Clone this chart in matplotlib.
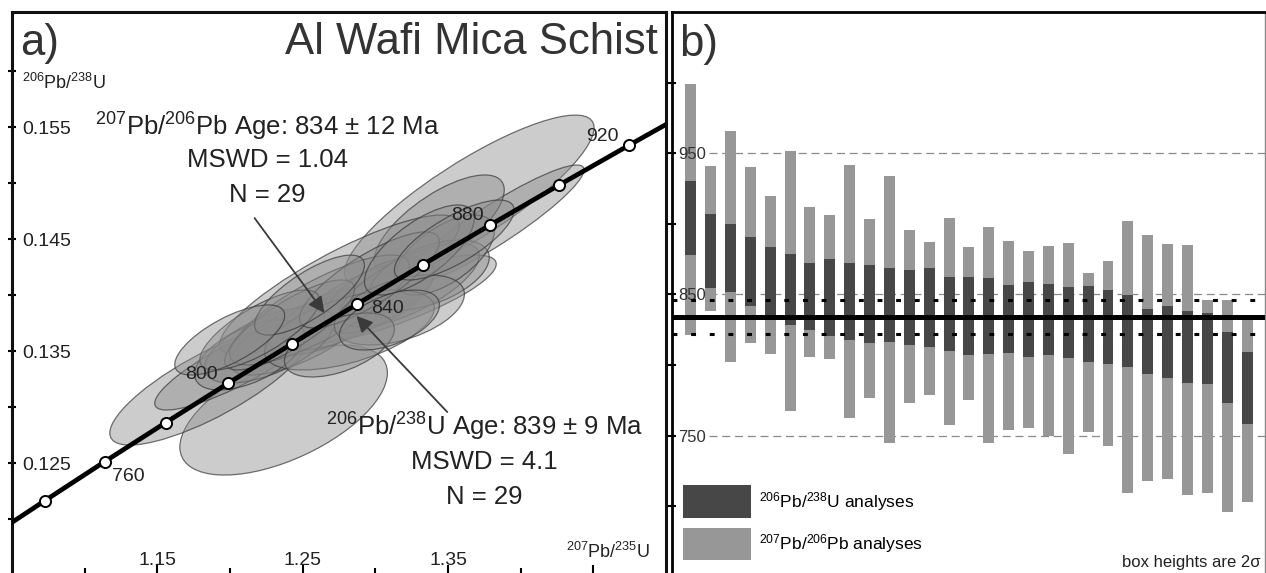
import numpy as np
import matplotlib.pyplot as plt
from matplotlib.patches import Ellipse, Patch
from matplotlib.ticker import FixedLocator, FixedFormatter, NullFormatter

plt.rcParams['font.family'] = ['Liberation Sans', 'DejaVu Sans']
plt.rcParams['mathtext.fontset'] = 'custom'
plt.rcParams['mathtext.rm'] = 'Liberation Sans'
plt.rcParams['mathtext.it'] = 'Liberation Sans:italic'
plt.rcParams['mathtext.bf'] = 'Liberation Sans:bold'

# concordia points (Ma, 207Pb/235U, 206Pb/238U)
conc_age = [720, 740, 760, 780, 800, 820, 840, 860, 880, 900, 920, 940]
conc_x = [1.0321, 1.0726, 1.1138, 1.1558, 1.1987, 1.2425, 1.2871, 1.3326, 1.3790, 1.4263, 1.4746, 1.5238]
conc_y = [0.11817, 0.12164, 0.12513, 0.12862, 0.13213, 0.13565, 0.13918, 0.14272, 0.14627, 0.14983, 0.15340, 0.15699]
conc_labels = [760, 800, 840, 880, 920]

# zircon analyses: 207Pb/235U, 2s, 206Pb/238U, 2s, error correlation
r75 = [1.2369, 1.1860, 1.2032, 1.3646, 1.3818, 1.3440, 1.2753, 1.3097, 1.2479, 1.2685,
       1.2891, 1.3028, 1.3234, 1.2272, 1.2135, 1.3372, 1.3475, 1.2616, 1.2822, 1.2410,
       1.3166, 1.2959, 1.2204, 1.3303, 1.2753, 1.2547, 1.3543, 1.3097, 1.1998]
r75_err = [0.0714, 0.0687, 0.0550, 0.0859, 0.0618, 0.0447, 0.0824, 0.0735, 0.0481, 0.0412,
           0.0515, 0.0378, 0.0481, 0.0447, 0.0378, 0.0412, 0.0344, 0.0618, 0.0584, 0.0447,
           0.0447, 0.0481, 0.0412, 0.0378, 0.0378, 0.0378, 0.0412, 0.0344, 0.0378]
r68 = [0.12974, 0.13197, 0.13376, 0.14850, 0.14627, 0.14627, 0.14091, 0.13957, 0.13644, 0.13778,
       0.13912, 0.14001, 0.14091, 0.13555, 0.13466, 0.14180, 0.14359, 0.13868, 0.13689, 0.13734,
       0.13868, 0.14136, 0.13689, 0.14404, 0.13555, 0.14001, 0.14493, 0.13778, 0.13600]
r68_err = [0.00581, 0.00536, 0.00402, 0.00759, 0.00536, 0.00447, 0.00625, 0.00402, 0.00357, 0.00313,
           0.00402, 0.00339, 0.00375, 0.00339, 0.00313, 0.00313, 0.00357, 0.00491, 0.00357, 0.00402,
           0.00313, 0.00429, 0.00357, 0.00402, 0.00286, 0.00357, 0.00357, 0.00268, 0.00313]
rho = [0.57, 0.80, 0.85, 0.85, 0.92, 0.70, 0.85, 0.80, 0.70, 0.65,
       0.75, 0.60, 0.70, 0.60, 0.55, 0.50, 0.60, 0.80, 0.55, 0.80,
       0.45, 0.80, 0.75, 0.70, 0.50, 0.75, 0.75, 0.50, 0.70]

# per-analysis 2 sigma age ranges (Ma)
pb76_top = [999, 941, 965.5, 940, 920, 951.5, 912, 906.5, 942, 903.5,
            934, 896, 887.5, 904, 883.6, 898, 887.6, 881, 884.3, 886.4,
            865.5, 873.5, 902, 891.8, 885.7, 885.3, 846, 846, 835.3]
pb76_bot = [821, 838, 802.5, 815.5, 808, 767.5, 806, 804.5, 762.5, 777,
            744.6, 773, 779, 757.6, 775, 745, 754, 755.3, 749.8, 737,
            752.8, 742.7, 709.3, 718.2, 719.2, 708.1, 709.5, 696, 703]
u68_top = [930, 906.7, 899.7, 890.6, 883.6, 878.9, 872.6, 875.4, 872.3, 871.2,
           869, 867.6, 868.7, 862.2, 862.7, 861.9, 857, 859.1, 857.2, 855.3,
           856, 853, 849.4, 840, 841.7, 838.3, 837.2, 823.5, 809.4]
u68_bot = [877.7, 854.5, 851.5, 842, 835, 828.2, 824.5, 820.3, 818, 815.8,
           816.4, 814, 812.7, 810, 807, 807.5, 808.7, 805.4, 806.8, 804.7,
           801.9, 800.5, 798.3, 793.4, 791, 787.5, 786.5, 772.9, 758.3]
mean_age = 834
mean_err = 12


def error_ellipse(ax, x, sx, y, sy, r, **kw):
    cov = np.array([[sx ** 2, r * sx * sy], [r * sx * sy, sy ** 2]])
    vals, vecs = np.linalg.eigh(cov)
    angle = np.degrees(np.arctan2(vecs[1, 1], vecs[0, 1]))
    ax.add_patch(Ellipse((x, y), 2 * np.sqrt(vals[1]), 2 * np.sqrt(vals[0]),
                         angle=angle, **kw))


W, H = 1266, 573
fig = plt.figure(figsize=(W / 100, H / 100), dpi=100)

# ---------------- a) concordia diagram ----------------
ax = fig.add_axes([12 / W, (H - 575) / H, 654 / W, 563 / H])
ax.set_xlim(1.05, 1.50)
ax.set_ylim(0.115, 0.1653)

for i in range(len(r75)):
    error_ellipse(ax, r75[i], r75_err[i], r68[i], r68_err[i], rho[i],
                  facecolor=(0.55, 0.55, 0.55, 0.44), edgecolor=(0.22, 0.22, 0.22, 0.7),
                  lw=0.9, zorder=2)

ax.plot(conc_x, conc_y, color='black', lw=3.4, zorder=5, solid_capstyle='butt')
ax.plot(conc_x[1:-1], conc_y[1:-1], 'o', ms=8, mfc='white', mec='black', mew=1.4, zorder=6)

label_offsets = {760: (17, -11), 800: (-19, 6.5), 840: (22, -3), 880: (-16, 7), 920: (-19, 6.5)}
for age in conc_labels:
    k = conc_age.index(age)
    ax.annotate(str(age), (conc_x[k], conc_y[k]), xytext=label_offsets[age],
                textcoords='offset points', ha='center', va='center', fontsize=14,
                color='#222222', zorder=7)

tx = ax.transAxes
ax.text(0.012, 0.981, 'a)', transform=tx, fontsize=31.5, va='top', ha='left', color='#333333')
ax.text(0.988, 0.982, 'Al Wafi Mica Schist', transform=tx, fontsize=31.5, va='top', ha='right',
        color='#333333')

ax.text(0.390, 0.796, r'$^{207}$Pb/$^{206}$Pb Age: 834 ± 12 Ma', transform=tx, fontsize=18.5,
        ha='center', va='center', color='#222222')
ax.text(0.390, 0.737, 'MSWD = 1.04', transform=tx, fontsize=18.5, ha='center', va='center',
        color='#222222')
ax.text(0.390, 0.675, 'N = 29', transform=tx, fontsize=18.5, ha='center', va='center',
        color='#222222')
ax.text(0.722, 0.263, r'$^{206}$Pb/$^{238}$U Age: 839 ± 9 Ma', transform=tx, fontsize=18.5,
        ha='center', va='center', color='#222222')
ax.text(0.722, 0.201, 'MSWD = 4.1', transform=tx, fontsize=18.5, ha='center', va='center',
        color='#222222')
ax.text(0.722, 0.139, 'N = 29', transform=tx, fontsize=18.5, ha='center', va='center',
        color='#222222')

arrow = dict(arrowstyle='-|>', color='#3a3a3a', lw=1.3, mutation_scale=24, shrinkA=0, shrinkB=0)
ax.annotate('', xy=(1.2650, 0.13841), xytext=(1.2169, 0.14689), arrowprops=arrow, zorder=8)
ax.annotate('', xy=(1.2870, 0.13814), xytext=(1.3495, 0.12956), arrowprops=arrow, zorder=8)

ax.text(0.0153, 0.874, r'$^{206}$Pb/$^{238}$U', transform=tx, fontsize=13, ha='left',
        va='center', color='#222222')
ax.text(0.9755, 0.041, r'$^{207}$Pb/$^{235}$U', transform=tx, fontsize=13, ha='right',
        va='center', color='#222222')

ax.yaxis.set_major_locator(FixedLocator([0.125, 0.135, 0.145, 0.155]))
ax.yaxis.set_minor_locator(FixedLocator([0.120, 0.130, 0.140, 0.150, 0.160]))
ax.yaxis.set_major_formatter(FixedFormatter(['0.125', '0.135', '0.145', '0.155']))
ax.tick_params(axis='y', which='both', direction='inout', length=6, width=1.5, pad=-10.2,
               labelsize=14, labelcolor='#222222', right=False)
ax.xaxis.set_major_locator(FixedLocator([1.15, 1.25, 1.35, 1.45]))
ax.xaxis.set_minor_locator(FixedLocator([1.10, 1.20, 1.30, 1.40]))
ax.xaxis.set_major_formatter(FixedFormatter(['1.15', '1.25', '1.35', '']))
ax.xaxis.set_minor_formatter(NullFormatter())
ax.tick_params(axis='x', which='major', direction='in', length=7, width=1.5, pad=-4,
               labelsize=14, labelcolor='#222222', top=False)
ax.tick_params(axis='x', which='minor', direction='in', length=5, width=1.5, top=False)
for lab in ax.get_yticklabels():
    lab.set_horizontalalignment('left')
for lab in ax.get_xticklabels():
    lab.set_verticalalignment('bottom')
for s in ax.spines.values():
    s.set_linewidth(2.2)
    s.set_color('#111111')

# ---------------- b) age comparison ----------------
bx = fig.add_axes([672 / W, (H - 584) / H, 593 / W, 572 / H])
bx.set_axisbelow(False)
idx = np.arange(1, len(pb76_top) + 1)
bx.set_xlim(0.057, 29.9)
bx.set_ylim(645, 1050)

for g in (750, 850, 950):
    bx.axhline(g, xmin=0.063, color='#8a8a8a', lw=0.9, dashes=(6.4, 3.8), zorder=1.0)

pb_h = np.array(pb76_top) - np.array(pb76_bot)
u_h = np.array(u68_top) - np.array(u68_bot)
bx.bar(idx, pb_h, bottom=pb76_bot, width=0.55, color='#979797', zorder=1.2)
bx.bar(idx, u_h, bottom=u68_bot, width=0.55, color='#474747', zorder=1.3)

bx.axhline(mean_age, color='black', lw=3.6, zorder=5)
for e in (mean_age - mean_err, mean_age + mean_err):
    bx.axhline(e, color='black', lw=2.2, dashes=(1.6, 4.5), zorder=5)

bx.yaxis.set_major_locator(FixedLocator([750, 850, 950]))
bx.yaxis.set_minor_locator(FixedLocator([700, 800, 900, 1000]))
bx.tick_params(axis='y', which='both', direction='inout', length=6, width=1.5, pad=-7.3,
               labelsize=12, labelcolor='#333333')
bx.tick_params(axis='x', which='both', bottom=False, labelbottom=False)
for lab in bx.get_yticklabels():
    lab.set_horizontalalignment('left')

btx = bx.transAxes
bx.text(0.012, 0.979, 'b)', transform=btx, fontsize=31.5, va='top', ha='left', color='#333333')
bx.text(0.9933, 0.037, 'box heights are 2σ', transform=btx, fontsize=12, ha='right',
        va='center', color='#222222')

handles = [Patch(facecolor='#474747'), Patch(facecolor='#979797')]
bx.legend(handles, [r'$^{206}$Pb/$^{238}$U analyses', r'$^{207}$Pb/$^{206}$Pb analyses'],
          loc='lower left', bbox_to_anchor=(0.0186, 0.042), frameon=False, fontsize=12.5,
          handlelength=3.9, handleheight=2.5, handletextpad=0.45, labelspacing=0.55,
          borderpad=0, borderaxespad=0)

bx.spines['left'].set_linewidth(2.0)
bx.spines['top'].set_linewidth(2.0)
bx.spines['right'].set_linewidth(1.0)
bx.spines['right'].set_color('#888888')
bx.spines['bottom'].set_visible(False)

fig.savefig('out.png', dpi=100)
